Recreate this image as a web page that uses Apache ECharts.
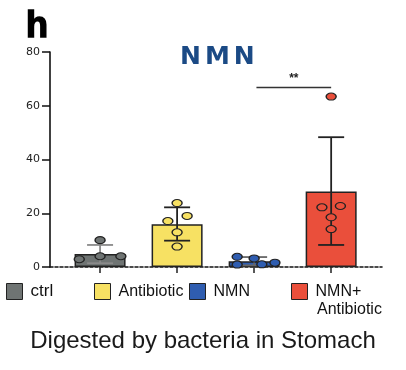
<!DOCTYPE html>
<html><head><meta charset="utf-8">
<script src="https://cdn.jsdelivr.net/npm/echarts@6/dist/echarts.min.js"></script>
<style>html,body{margin:0;padding:0;background:#fff}#c{width:406px;height:370px}</style>
</head><body><div id="c"></div>
<script>
var groups = ['ctrl', 'Antibiotic', 'NMN', 'NMN+Antibiotic'];
var means = [4.8, 15.9, 2.1, 28.1];
var errLow = [1.4, 9.8, 0.6, 8.2];
var errHigh = [8.2, 22.2, 3.7, 48.3];
var ptsCtrl = [[-0.27, 2.9], [0, 10.0], [0, 4.0], [0.27, 4.0]];
var ptsAnti = [[1, 23.8], [0.88, 17.1], [1.13, 19.0], [1, 12.9], [1, 7.6]];
var ptsNMN = [[1.78, 3.8], [1.78, 0.9], [2, 3.2], [2.27, 1.6], [2.1, 1.0]];
var ptsBoth = [[2.88, 22.2], [3.12, 22.7], [3, 18.5], [3, 14.1], [3, 63.4]];
var points = [ptsCtrl, ptsAnti, ptsNMN, ptsBoth];
var yTicks = [0, 20, 40, 60, 80];
var sigPair = [2.03, 3];
var sigLevel = 67;
var sigLabel = '**';

var colors = ['#6f7473', '#f7e163', '#2f5db0', '#ea4f3b'];
var errColors = ['#8a8a8a', '#222', '#666', '#222'];
var font = 'Liberation Sans, Arial, sans-serif';

var chart = echarts.init(document.getElementById('c'));
var series = [];
groups.forEach(function (g, i) {
  series.push({
    name: g, type: 'bar', barWidth: 51, barGap: '-100%',
    data: [[i, means[i]]],
    itemStyle: { color: colors[i], borderColor: '#222', borderWidth: 1.5 },
    z: 2
  });
});
series.push({
  type: 'custom', z: 3,
  data: groups.map(function (g, i) { return [i, errLow[i], errHigh[i]]; }),
  renderItem: function (params, api) {
    var x = api.value(0);
    var top = api.coord([x, api.value(2)]);
    var bot = api.coord([x, api.value(1)]);
    var hw = 13;
    var st = { stroke: errColors[params.dataIndex], lineWidth: 1.8 };
    return { type: 'group', children: [
      { type: 'line', shape: { x1: top[0], y1: top[1], x2: bot[0], y2: bot[1] }, style: st },
      { type: 'line', shape: { x1: top[0] - hw, y1: top[1], x2: top[0] + hw, y2: top[1] }, style: st },
      { type: 'line', shape: { x1: bot[0] - hw, y1: bot[1], x2: bot[0] + hw, y2: bot[1] }, style: st }
    ]};
  }
});
points.forEach(function (p, i) {
  series.push({
    type: 'scatter', z: 4, data: p, symbol: 'circle', symbolSize: [10, 7],
    itemStyle: { color: colors[i], borderColor: '#222', borderWidth: 1.2, opacity: 1 }
  });
});
series.push({
  type: 'line', z: 5, data: [], silent: true,
  markLine: {
    silent: true, symbol: ['none', 'none'],
    lineStyle: { color: '#333', width: 1.3, type: 'solid' },
    label: { show: true, position: 'middle', formatter: sigLabel, color: '#222', fontSize: 12, fontWeight: 'bold', distance: 2 },
    data: [[{ coord: [sigPair[0], sigLevel] }, { coord: [sigPair[1], sigLevel] }]]
  }
});

function legendAt(name, left, fs, fmt) {
  return {
    data: [name], left: left, top: 283, padding: 0, itemWidth: 16, itemHeight: 16, itemGap: 0,
    icon: 'rect', selectedMode: false,
    itemStyle: { borderColor: '#222', borderWidth: 1 },
    formatter: fmt || '{name}',
    textStyle: { fontFamily: font, fontSize: fs, color: '#111', padding: [0, 0, 0, 3] }
  };
}

chart.setOption({
  animation: false,
  title: [
    { text: 'h', left: 21, top: 4, textStyle: { fontFamily: font, fontSize: 36, fontWeight: 'bold', color: '#000', textBorderColor: '#000', textBorderWidth: 1.5 } },
    { text: '{a|N}{a|M}{b|N}', left: 175, top: 40,
      textStyle: { rich: {
        a: { fontFamily: 'DejaVu Sans', fontSize: 25, fontWeight: 'bold', color: '#1b4a85', padding: [0, 4, 0, 0] },
        b: { fontFamily: 'DejaVu Sans', fontSize: 25, fontWeight: 'bold', color: '#1b4a85' } } } },
    { text: 'Antibiotic', left: 312, top: 297, textStyle: { fontFamily: font, fontSize: 16, fontWeight: 'normal', color: '#111' } },
    { text: 'Digested by bacteria in Stomach', left: 'center', top: 324, textStyle: { fontFamily: font, fontSize: 24, fontWeight: 'normal', color: '#1a1a1a' } }
  ],
  legend: [
    legendAt('ctrl', 6, 17),
    legendAt('Antibiotic', 94, 16),
    legendAt('NMN', 189, 16),
    legendAt('NMN+Antibiotic', 291, 16, function () { return 'NMN+'; })
  ],
  grid: { left: 50, right: 24, top: 52, bottom: 103 },
  xAxis: {
    type: 'value', min: -0.65, max: 3.66,
    axisLine: { show: true, onZero: false, lineStyle: { color: '#111', width: 1.6, type: [3, 2] } },
    axisTick: { show: true, customValues: [0, 1, 2, 3], length: 6, lineStyle: { color: '#222', width: 1.5 } },
    axisLabel: { show: false },
    splitLine: { show: false }
  },
  yAxis: {
    type: 'value', min: 0, max: 80, interval: 20,
    axisLine: { show: true, onZero: false, lineStyle: { color: '#111', width: 1.6 } },
    axisTick: { show: true, length: 8, lineStyle: { color: '#111', width: 1.5 } },
    axisLabel: { fontFamily: 'DejaVu Sans', fontSize: 11, color: '#222', margin: 10,
      customValues: yTicks },
    splitLine: { show: false }
  },
  series: series
});
</script></body></html>
